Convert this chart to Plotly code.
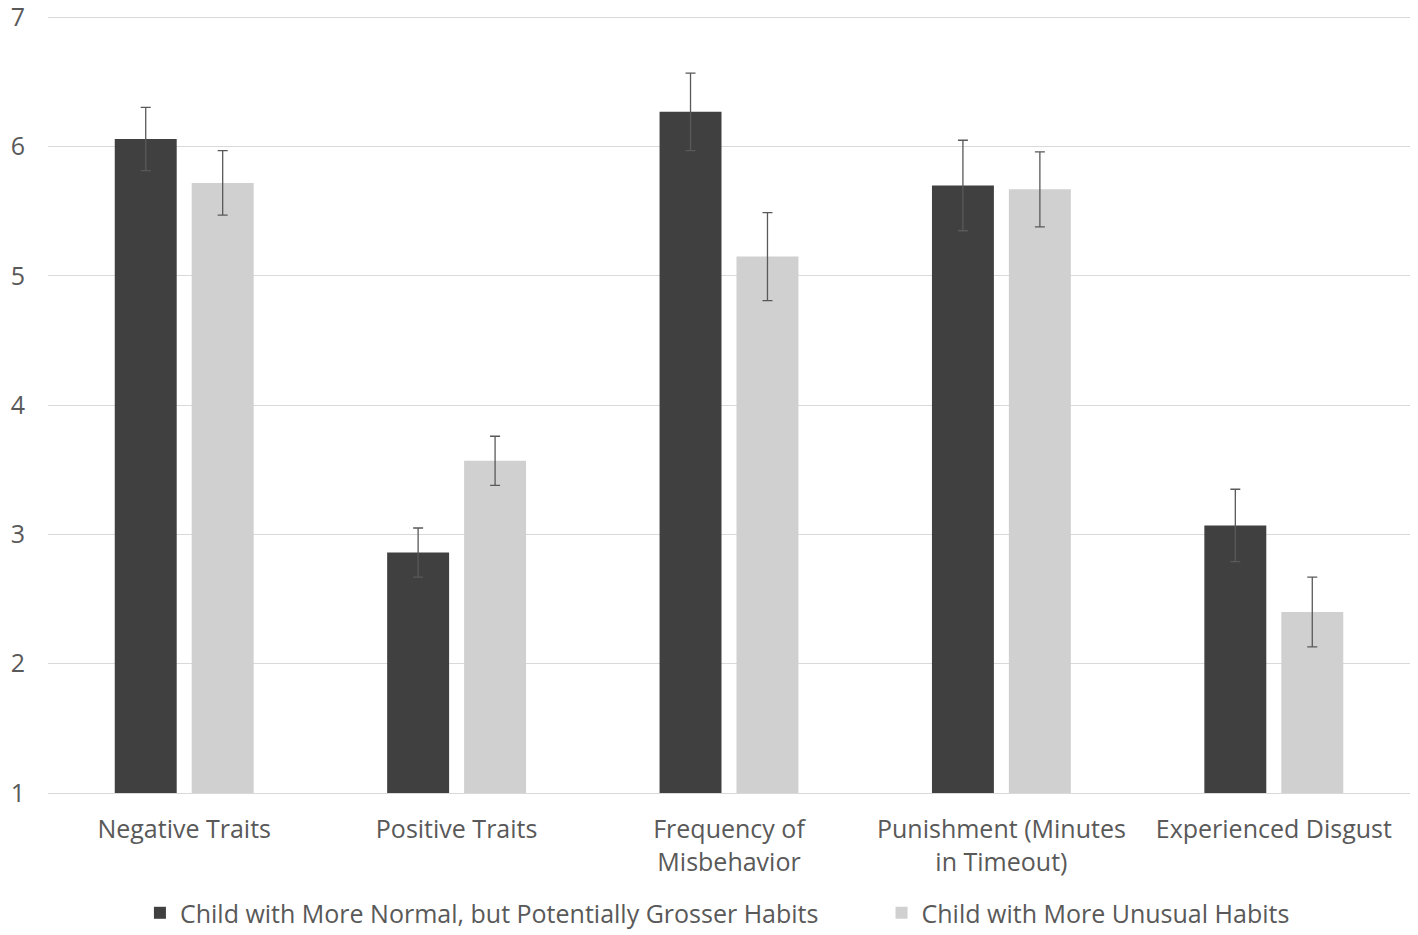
import plotly.graph_objects as go

categories = ["Negative Traits", "Positive Traits", "Frequency of<br>Misbehavior",
              "Punishment (Minutes<br>in Timeout)", "Experienced Disgust"]

normal_name = "Child with More Normal, but Potentially Grosser Habits"
normal_vals = [6.06, 2.86, 6.27, 5.70, 3.07]
normal_err = [0.245, 0.19, 0.30, 0.35, 0.28]

unusual_name = "Child with More Unusual Habits"
unusual_vals = [5.72, 3.57, 5.15, 5.67, 2.40]
unusual_err = [0.25, 0.19, 0.34, 0.29, 0.27]

err_color = "#595959"

fig = go.Figure()
fig.add_trace(go.Bar(
    x=categories, y=normal_vals, name=normal_name, legend="legend",
    marker=dict(color="#404040", line=dict(width=0)),
    error_y=dict(type="data", array=normal_err, color=err_color, thickness=1.3, width=5),
))
fig.add_trace(go.Bar(
    x=categories, y=unusual_vals, name=unusual_name, legend="legend2",
    marker=dict(color="#d0d0d0", line=dict(width=0)),
    error_y=dict(type="data", array=unusual_err, color=err_color, thickness=1.3, width=5),
))

# page body has an 8px margin, so margins are offset to land on the same pixels
leg_common = dict(orientation="h", yanchor="middle", y=-0.1535, xanchor="left",
                  font=dict(size=25), itemwidth=30, bgcolor="rgba(0,0,0,0)")
fig.update_layout(
    width=1418, height=935,
    margin=dict(l=40, r=16, t=3, b=150, autoexpand=False),
    paper_bgcolor="white", plot_bgcolor="white",
    font=dict(family="Open Sans", size=25, color="#595959"),
    barmode="group", bargap=0.435, bargroupgap=0.195,
    legend=dict(x=0.0675, **leg_common),
    legend2=dict(x=0.612, **leg_common),
    showlegend=True,
)
# range goes a little above 7 so the top gridline is drawn inside the plot
fig.update_yaxes(range=[1, 7.05], tickvals=[1, 2, 3, 4, 5, 6, 7], showgrid=True,
                 gridcolor="#d9d9d9", gridwidth=1,
                 zeroline=False, showline=False, ticks="", ticklabelstandoff=22,
                 automargin=False, ticklabeloverflow="allow")
fig.update_xaxes(showline=True, linecolor="#d9d9d9", linewidth=1, ticks="",
                 showgrid=False, ticklabelstandoff=14, automargin=False,
                 ticklabeloverflow="allow")

fig.write_html("out.html")
